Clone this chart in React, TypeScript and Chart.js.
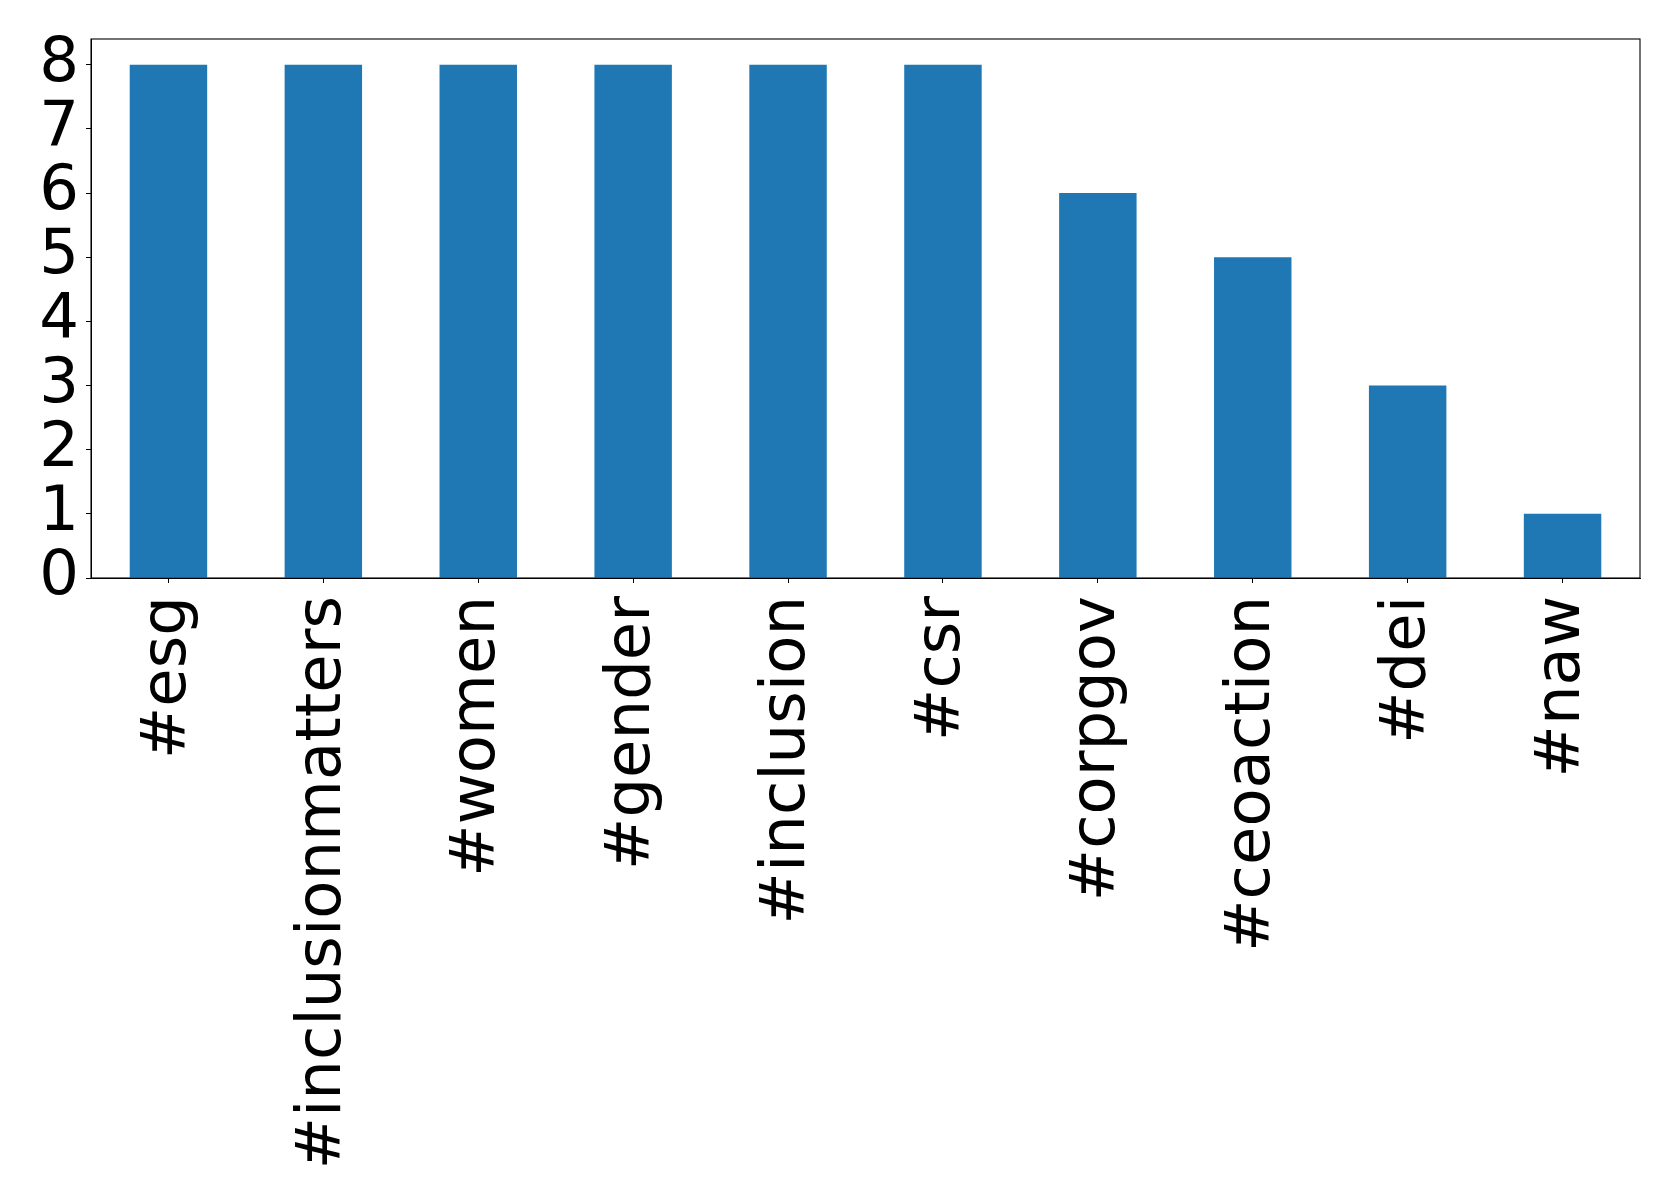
import React, { useEffect, useRef } from "react";
import { Chart, registerables } from "chart.js";

Chart.register(...registerables);

const categories = ["#esg", "#inclusionmatters", "#women", "#gender", "#inclusion", "#csr", "#corpgov", "#ceoaction", "#dei", "#naw"];
const counts = [8, 8, 8, 8, 8, 8, 6, 5, 3, 1];
const yTicks = [0, 1, 2, 3, 4, 5, 6, 7, 8];

const W = 1679;
const H = 1201;
const FONT = { family: "'DejaVu Sans', sans-serif", size: 62.5, lineHeight: 1 };

const framePlugin = {
  id: "frame",
  afterDraw(chart: any) {
    const { ctx, chartArea } = chart;
    ctx.save();
    ctx.strokeStyle = "#000";
    ctx.lineWidth = 1.1;
    ctx.strokeRect(chartArea.left, chartArea.top, chartArea.right - chartArea.left, chartArea.bottom - chartArea.top);
    ctx.restore();
  },
};

export default function App() {
  const ref = useRef<HTMLCanvasElement | null>(null);
  useEffect(() => {
    if (!ref.current) return;
    const chart = new Chart(ref.current, {
      type: "bar",
      data: {
        labels: categories,
        datasets: [
          {
            data: counts,
            backgroundColor: "#1f77b4",
            borderWidth: 0,
            barPercentage: 0.5,
            categoryPercentage: 1,
          },
        ],
      },
      options: {
        animation: false,
        responsive: false,
        devicePixelRatio: 1,
        layout: { padding: { top: 39, right: 39, left: 0, bottom: 0 } },
        plugins: { legend: { display: false }, tooltip: { enabled: false }, title: { display: false } },
        scales: {
          x: {
            offset: true,
            grid: { display: true, offset: false, drawOnChartArea: false, drawTicks: true, tickLength: 5, color: "#000", lineWidth: 1 },
            border: { display: true, color: "#000", width: 1 },
            ticks: { color: "#000", font: FONT, minRotation: 90, maxRotation: 90, padding: 13, autoSkip: false },
            afterFit: (s: any) => {
              s.height = 623;
            },
          },
          y: {
            min: 0,
            max: 8.4,
            grid: { display: true, drawOnChartArea: false, drawTicks: true, tickLength: 5, color: "#000", lineWidth: 1 },
            border: { display: true, color: "#000", width: 1 },
            ticks: { color: "#000", font: FONT, padding: 7, stepSize: 1, autoSkip: false },
            afterBuildTicks: (s: any) => {
              s.ticks = yTicks.map((v) => ({ value: v }));
            },
            afterFit: (s: any) => {
              s.width = 91;
              s.paddingTop = 0;
              s.paddingBottom = 0;
            },
          },
        },
      },
      plugins: [framePlugin],
    });
    return () => chart.destroy();
  }, []);
  return (
    <div style={{ position: "absolute", left: 0, top: 0, width: W, height: H, background: "#fff" }}>
      <canvas ref={ref} width={W} height={H} style={{ display: "block", width: W, height: H }} />
    </div>
  );
}
